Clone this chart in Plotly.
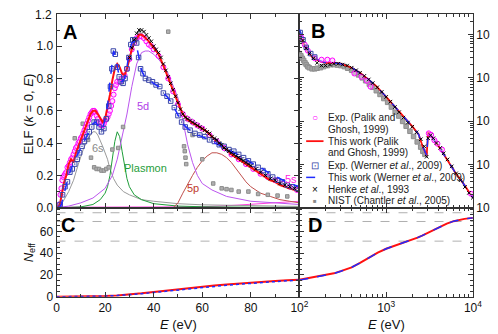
import plotly.graph_objects as go

# ---------------- data: panel A (ELF, linear E 0-100 eV) ----------------
palik_fit_E_A = [0.5, 1, 1.5, 2, 3, 4, 5, 6, 7, 8,
                 9, 10, 11, 12, 13, 14, 15, 16, 17, 18, 19, 20, 21, 22, 23, 24, 25, 26, 27, 28,
                 29, 30, 31, 32, 33, 34, 35, 36,
                 38, 40, 42, 44, 46, 48, 50, 52, 54, 56, 58, 60, 62, 64, 66, 68, 70, 72, 74, 76,
                 78, 80, 82, 84, 86, 88, 90, 92, 94, 96, 98, 100]
palik_fit_A = [0, 0.01, 0.03, 0.07, 0.15, 0.2, 0.27, 0.3, 0.28, 0.34,
               0.38, 0.42, 0.46, 0.5, 0.54, 0.58, 0.6, 0.6, 0.58, 0.55, 0.53, 0.55, 0.62, 0.7, 0.79, 0.86, 0.89, 0.87, 0.83, 0.82,
               0.86, 0.92, 0.98, 1.02, 1.05, 1.07, 1.07, 1.06,
               1.03, 0.99, 0.95, 0.88, 0.80, 0.72, 0.65, 0.58, 0.545, 0.525, 0.51, 0.49, 0.47, 0.44, 0.41, 0.38, 0.36, 0.33, 0.31, 0.29,
               0.27, 0.25, 0.23, 0.21, 0.19, 0.17, 0.16, 0.14, 0.13, 0.12, 0.11, 0.10]

palik_exp_E_A = [1.2, 1.6, 2, 2.4, 2.8, 3.2, 3.6, 4, 4.5, 5,
                 5.5, 6, 6.5, 7, 7.5, 8, 8.5, 9, 9.5, 10,
                 10.5, 11, 11.5, 12, 12.5, 13, 13.5, 14, 14.5, 15,
                 15.5, 16, 16.5, 17, 17.5, 18, 18.5, 19, 19.5, 20,
                 20.5, 21, 21.5, 22, 22.5, 23, 23.5, 24, 24.5, 25,
                 26, 27, 28, 29, 30, 31, 32, 33, 34, 35,
                 36, 37, 38, 39, 40, 42, 44, 46, 48, 50,
                 52, 54, 56, 58, 60, 63, 66, 69, 72, 75,
                 78, 81, 84, 87, 90, 93, 96, 99]
palik_exp_A = [0.02, 0.08, 0.12, 0.17, 0.19, 0.2, 0.21, 0.22, 0.25, 0.26,
               0.28, 0.3, 0.31, 0.33, 0.35, 0.37, 0.38, 0.4, 0.41, 0.43,
               0.44, 0.46, 0.48, 0.5, 0.52, 0.54, 0.56, 0.58, 0.59, 0.6,
               0.6, 0.59, 0.57, 0.55, 0.53, 0.52, 0.51, 0.51, 0.52, 0.54,
               0.55, 0.56, 0.58, 0.6, 0.63, 0.66, 0.7, 0.74, 0.76, 0.78,
               0.78, 0.8, 0.82, 0.86, 0.92, 0.98, 1.02, 1.05, 1.06, 1.06,
               1.05, 1.03, 1.01, 1.0, 0.98, 0.94, 0.87, 0.80, 0.72, 0.64,
               0.58, 0.55, 0.53, 0.51, 0.49, 0.45, 0.41, 0.37, 0.33, 0.3,
               0.27, 0.24, 0.21, 0.19, 0.17, 0.15, 0.13, 0.11]

werner_exp_E_A = [1.5, 2.5, 3.5, 4.5, 5.5, 6.5, 7.5, 8.5, 9.5, 10.5,
                  11.5, 12.5, 13.5, 14.5, 15.5, 16.5, 17.5, 18.5, 19.5, 20.5,
                  21.5, 22.2, 22.8, 23.4, 24.2, 25, 25.8, 26.6, 27.4, 28.2,
                  29, 29.8, 30.6, 31.4, 32.2, 33, 33.8, 34.6, 35.6, 36.6,
                  38, 39.5, 41, 42.5, 44, 45.5, 47, 48.5, 50, 51.5,
                  53, 55, 57, 59, 61, 63, 65, 67, 69, 71,
                  73, 75, 77, 79, 81, 83, 85, 87, 89, 91,
                  93, 95, 97, 99]
werner_exp_A = [0.02, 0.08, 0.13, 0.16, 0.22, 0.24, 0.27, 0.30, 0.34, 0.38,
                0.41, 0.44, 0.47, 0.50, 0.53, 0.53, 0.50, 0.47, 0.49, 0.55,
                0.63, 0.75, 0.86, 0.97, 0.95, 0.87, 0.81, 0.78, 0.77, 0.80,
                0.86, 0.93, 1.01, 1.04, 1.04, 1.02, 0.93, 0.86, 0.83, 0.80,
                0.79, 0.78, 0.76, 0.75, 0.71, 0.69, 0.66, 0.62, 0.57, 0.53,
                0.50, 0.48, 0.46, 0.45, 0.44, 0.42, 0.41, 0.39, 0.38, 0.36,
                0.35, 0.33, 0.31, 0.29, 0.27, 0.25, 0.23, 0.21, 0.19, 0.17,
                0.16, 0.14, 0.13, 0.12]

werner_fit_E_A = [1, 2, 3, 4, 5, 6, 7, 8, 9, 10,
                  11, 12, 13, 14, 15, 16, 17, 18, 19, 20,
                  21, 22, 23, 23.5, 24, 25, 26, 27, 28, 29,
                  30, 31, 32, 33, 34, 35, 36, 38, 40, 42,
                  44, 46, 48, 50, 52, 54, 56, 58, 60, 64,
                  68, 72, 76, 80, 84, 88, 92, 96, 100]
werner_fit_A = [0, 0.02, 0.08, 0.15, 0.2, 0.24, 0.28, 0.31, 0.34, 0.37,
                0.40, 0.43, 0.46, 0.49, 0.52, 0.53, 0.51, 0.48, 0.49, 0.55,
                0.63, 0.78, 0.93, 0.97, 0.95, 0.87, 0.80, 0.78, 0.80, 0.87,
                0.97, 1.02, 1.03, 1.0, 0.92, 0.85, 0.82, 0.79, 0.77, 0.75,
                0.71, 0.68, 0.63, 0.57, 0.52, 0.49, 0.47, 0.45, 0.44, 0.41,
                0.38, 0.35, 0.32, 0.28, 0.25, 0.21, 0.18, 0.15, 0.13]

henke_E_A = [30, 31, 32, 33, 34, 35, 36, 37, 38, 39,
             40, 41, 42, 43, 44, 45, 46, 47, 48, 49,
             50, 51, 52, 53, 54, 55, 56, 57, 58, 59,
             60, 61, 62, 63, 64, 65, 66, 67, 68, 69,
             70, 71, 72, 73, 74, 75, 76, 77, 78, 79,
             80, 82, 84, 86, 88, 90, 92, 94, 96, 98, 100]
henke_A = [0.93, 0.99, 1.04, 1.08, 1.1, 1.1, 1.09, 1.07, 1.05, 1.03,
           1.0, 0.98, 0.96, 0.93, 0.89, 0.85, 0.81, 0.77, 0.73, 0.69,
           0.65, 0.61, 0.58, 0.56, 0.55, 0.54, 0.53, 0.52, 0.51, 0.5,
           0.49, 0.48, 0.47, 0.46, 0.44, 0.43, 0.42, 0.4, 0.39, 0.37,
           0.36, 0.35, 0.34, 0.33, 0.32, 0.31, 0.3, 0.29, 0.28, 0.27,
           0.26, 0.24, 0.22, 0.2, 0.18, 0.17, 0.15, 0.14, 0.13, 0.12, 0.11]

nist_E_A = [7.5, 10.8, 13, 14.2, 15.5, 16.5, 17.5, 18.5, 19.5, 20.5,
            21.5, 23, 25.4, 27.4, 34, 46, 52.5, 52.8, 53.1, 53.4,
            56, 60, 64.5, 68, 70, 72, 75, 79, 83, 87, 91, 95]
nist_A = [0.43, 0.52, 0.42, 0.31, 0.25, 0.24, 0.24, 0.23, 0.23, 0.24,
          0.25, 0.36, 0.37, 0.5, 1.08, 1.09, 0.38, 0.35, 0.31, 0.27,
          0.45, 0.3, 0.15, 0.12, 0.115, 0.11, 0.1, 0.1, 0.085, 0.08, 0.075, 0.07]

# oscillator components
s6_E = [0, 2, 5, 7, 9, 11, 13, 15, 16, 17, 19, 21, 22, 23.5, 25, 27.5, 30, 35, 40, 50, 60, 80, 100]
s6_V = [0, 0.02, 0.1, 0.17, 0.27, 0.36, 0.43, 0.47, 0.47, 0.45, 0.38, 0.3, 0.24, 0.18, 0.14, 0.1, 0.08, 0.05, 0.04, 0.025, 0.018, 0.012, 0.008]
plasmon_E = [5, 10, 15, 18, 20, 21, 22, 23, 24, 25, 26, 27, 28, 29, 30, 32, 35, 40, 50, 60, 80, 100]
plasmon_V = [0.002, 0.005, 0.02, 0.05, 0.09, 0.13, 0.2, 0.3, 0.41, 0.47, 0.44, 0.35, 0.25, 0.18, 0.13, 0.08, 0.05, 0.025, 0.01, 0.006, 0.003, 0.002]
d5_E = [0, 5, 10, 15, 20, 23, 25, 27, 29, 31, 33, 35, 36.5, 38, 40, 42, 44, 46, 48, 50,
        52, 54, 56, 58, 60, 64, 70, 80, 90, 100]
d5_V = [0, 0.01, 0.03, 0.06, 0.12, 0.2, 0.3, 0.43, 0.58, 0.75, 0.89, 0.96, 0.97, 0.97, 0.95, 0.92, 0.88, 0.83, 0.76, 0.68,
        0.54, 0.39, 0.28, 0.2, 0.15, 0.11, 0.07, 0.04, 0.03, 0.02]
p5_E = [48, 50, 52, 54, 56, 58, 60, 62, 64, 66, 68, 70, 72, 74, 76, 78, 80, 84, 88, 92, 96, 100]
p5_V = [0, 0.03, 0.09, 0.15, 0.2, 0.25, 0.29, 0.32, 0.34, 0.34, 0.33, 0.31, 0.28, 0.24, 0.2, 0.16, 0.13, 0.09, 0.07, 0.05, 0.04, 0.03]
s5_E = [0, 20, 40, 60, 70, 80, 90, 100]
s5_V = [0.003, 0.003, 0.004, 0.006, 0.012, 0.02, 0.03, 0.04]

# ---------------- data: panel B (ELF, log E 100-10^4 eV) ----------------
fit_E_B = [100, 110, 120, 140, 170, 200, 250, 300, 350, 400,
           500, 600, 770, 1000, 1340, 1700, 2000, 2370, 2600, 2930,
           3050, 3300, 3700, 4200, 4800, 5500, 6500, 7500, 8500, 10000]
palik_fit_B = [0.10, 0.065, 0.046, 0.03, 0.024, 0.022, 0.022, 0.021, 0.019, 0.017,
               0.013, 0.0098, 0.0064, 0.0036, 0.0019, 0.0011, 0.00075, 0.00049, 0.00028, 0.00016,
               0.00056, 0.00045, 0.00033, 0.00023, 0.00015, 0.000095, 0.000058, 0.00004, 0.000028, 0.000017]
werner_fit_B = [0.13, 0.075, 0.05, 0.032, 0.025, 0.022, 0.022, 0.021, 0.019, 0.017,
                0.013, 0.0098, 0.0064, 0.0036, 0.0019, 0.0011, 0.00075, 0.00049, 0.00028, 0.00016,
                0.00056, 0.00045, 0.00033, 0.00023, 0.00015, 0.000095, 0.000058, 0.00004, 0.000028, 0.000017]
palik_exp_E_B = [105, 115, 125, 150, 180, 210, 240, 430, 520, 600, 660, 3100, 3300, 3600, 3900, 4400, 9500]
palik_exp_B = [0.085, 0.058, 0.042, 0.028, 0.026, 0.026, 0.025, 0.0125, 0.0105, 0.0085, 0.0062,
               0.00052, 0.00048, 0.00036, 0.0003, 0.00022, 0.000021]
werner_exp_E_B = [102, 110, 120, 135, 150]
werner_exp_B = [0.11, 0.075, 0.05, 0.036, 0.03]
henke_E_B = [110, 120, 130, 145, 160, 180, 200, 225, 250, 280,
             315, 355, 400, 450, 500, 560, 630, 700, 790, 890,
             1000, 1120, 1260, 1410, 1580, 1780, 2000, 2240, 2510, 2750,
             2930, 3050, 3250, 3500, 3800, 4200, 4600, 5100, 5700, 6400,
             7200, 8100, 9000, 10000]
henke_B = [0.072, 0.048, 0.036, 0.028, 0.022, 0.019, 0.019, 0.02, 0.021, 0.021,
           0.02, 0.019, 0.017, 0.0148, 0.013, 0.011, 0.0091, 0.0075, 0.006, 0.0047,
           0.0036, 0.0028, 0.0021, 0.0016, 0.0012, 0.00092, 0.00074, 0.00055, 0.00038, 0.00026,
           0.00015, 0.0004, 0.00047, 0.0004, 0.00031, 0.00024, 0.00018, 0.00013, 0.00009, 0.000062,
           0.000043, 0.00003, 0.000022, 0.000017]
nist_E_B = [100, 104, 108, 112, 116, 120, 125, 130, 140, 150,
            160, 175, 190, 210, 230, 250, 275, 300, 330, 360,
            400, 440, 480, 530, 580, 640, 700, 770, 850, 940,
            1040, 1150, 1270, 1400, 1550, 1700, 1880, 2070, 2280, 2500,
            2650, 2800]
nist_B = [0.036, 0.032, 0.028, 0.025, 0.022, 0.02, 0.018, 0.017, 0.016, 0.016,
          0.0165, 0.017, 0.018, 0.019, 0.02, 0.02, 0.0195, 0.019, 0.018, 0.0165,
          0.0148, 0.0132, 0.0116, 0.0099, 0.0085, 0.0071, 0.006, 0.005, 0.0041, 0.0033,
          0.0027, 0.0021, 0.0016, 0.0013, 0.00098, 0.00076, 0.00058, 0.00044, 0.00033, 0.00025,
          0.0002, 0.00017]

# ---------------- data: panels C / D (N_eff) ----------------
neff_E_C = [0, 5, 10, 15, 20, 25, 30, 35, 40, 45, 50, 55, 60, 65, 70, 75, 80, 85, 90, 95, 100]
neff_palik_C = [0, 0.05, 0.15, 0.35, 0.7, 1.3, 2.1, 3.2, 4.4, 5.7, 7.0, 8.2, 9.3, 10.3, 11.3, 12.2, 13.0, 13.8, 14.5, 15.1, 15.6]
neff_werner_C = [0, 0.05, 0.14, 0.32, 0.65, 1.2, 1.9, 2.9, 4.0, 5.2, 6.4, 7.6, 8.6, 9.6, 10.6, 11.5, 12.4, 13.2, 14.0, 14.7, 15.3]
neff_E_D = [100, 120, 150, 200, 250, 300, 400, 500, 600, 800, 1000, 1300, 1600, 2000, 2300, 2600,
            3000, 3500, 4000, 5000, 6000, 7000, 8000, 10000]
neff_palik_D = [15.6, 16.8, 18.2, 19.8, 21.5, 23.5, 27, 31, 34.5, 40.5, 44, 47, 49.5, 52.5, 54.2, 56,
                58.5, 61.5, 63.8, 67, 69.3, 70.6, 71.4, 72.3]
neff_werner_D = [15.3, 16.6, 18.0, 19.7, 21.4, 23.4, 27, 31, 34.5, 40.5, 44, 47, 49.5, 52.5, 54.2, 56,
                 58.5, 61.5, 63.8, 67, 69.3, 70.6, 71.4, 72.3]
shell_levels = [77, 69, 51]

# tick labels
elf_ticks = [0, 0.2, 0.4, 0.6, 0.8, 1.0]
elf_ticktext = ['0.0', '0.2', '0.4', '0.6', '0.8', '1.0']
elf_top_label = '1.2'

# ---------------- layout helpers ----------------
W, H = 498, 334
def px(v): return v / W
def py(v): return 1 - v / H

XL, XM, XR = 41, 293, 473
YT, YM, YB = 6, 204, 295

RED = '#ff1010'
BLUE = '#1f2cff'
MAG = '#ff00ff'
SQ = '#3a46a8'
FONT = 'Liberation Sans, Arial, sans-serif'

fig = go.Figure()

def line(xs, ys, xa, ya, color, width=1.0, dash='solid'):
    fig.add_trace(go.Scatter(x=xs, y=ys, xaxis=xa, yaxis=ya, mode='lines',
                             line=dict(color=color, width=width, dash=dash),
                             showlegend=False, hoverinfo='skip'))

def pts(xs, ys, xa, ya, symbol, size, color, fill=None, lw=1.0):
    fig.add_trace(go.Scatter(x=xs, y=ys, xaxis=xa, yaxis=ya, mode='markers',
                             marker=dict(symbol=symbol, size=size, color=fill if fill else color,
                                         line=dict(color=color, width=lw)),
                             showlegend=False, hoverinfo='skip'))

# ---- Panel A ----
line(s5_E, s5_V, 'x', 'y', '#ff40e0', 1)
line(s6_E, s6_V, 'x', 'y', '#9a9a9a', 1)
line(plasmon_E, plasmon_V, 'x', 'y', '#1f9e3a', 1)
line(p5_E, p5_V, 'x', 'y', '#c0504d', 1)
line(d5_E, d5_V, 'x', 'y', '#bb55ee', 1)
pts(nist_E_A, nist_A, 'x', 'y', 'square', 3.5, '#8c8c8c', fill='#b0b0b0', lw=1)
pts(palik_exp_E_A, palik_exp_A, 'x', 'y', 'circle', 5, MAG, fill='rgba(255,190,255,0.5)', lw=1)
line(palik_fit_E_A, palik_fit_A, 'x', 'y', RED, 2)
pts(werner_exp_E_A, werner_exp_A, 'x', 'y', 'square-open-dot', 4.5, SQ, lw=1)
line(werner_fit_E_A, werner_fit_A, 'x', 'y', BLUE, 1.5, 'dash')
pts(henke_E_A, henke_A, 'x', 'y', 'x-thin-open', 3.5, '#000000', lw=1)

# ---- Panel B ----
pts(nist_E_B, nist_B, 'x2', 'y2', 'square', 4.5, '#8e8e8e', fill='#a4a4a4', lw=1)
line(fit_E_B, palik_fit_B, 'x2', 'y2', RED, 1.8)
line(fit_E_B, werner_fit_B, 'x2', 'y2', BLUE, 1.5, 'dash')
pts(palik_exp_E_B, palik_exp_B, 'x2', 'y2', 'circle', 5, MAG, fill='rgba(255,190,255,0.5)', lw=1)
pts(werner_exp_E_B, werner_exp_B, 'x2', 'y2', 'square-open-dot', 4.5, SQ, lw=1)
pts(henke_E_B, henke_B, 'x2', 'y2', 'x-thin-open', 3.5, '#000000', lw=1)

# ---- Panel C / D ----
line(neff_E_C, neff_palik_C, 'x3', 'y3', RED, 2)
line(neff_E_C, neff_werner_C, 'x3', 'y3', BLUE, 1.5, 'dot')
line(neff_E_D, neff_palik_D, 'x4', 'y4', RED, 2)
line(neff_E_D, neff_werner_D, 'x4', 'y4', BLUE, 1.5, 'dash')

shapes = []
for lv in shell_levels:
    shapes.append(dict(type='line', xref='paper', yref='y3', x0=px(XL), x1=px(XR), y0=lv, y1=lv,
                       line=dict(color='#b0b0b0', width=1, dash='dash'), layer='below'))

# ---- axes ----
AX = dict(showline=True, linecolor='#333', linewidth=1, mirror='ticks', ticks='inside',
          ticklen=5, tickwidth=1, tickcolor='#333', showgrid=False, zeroline=False,
          tickfont=dict(family=FONT, size=12, color='#111'))
MINOR = dict(ticks='inside', ticklen=3, tickcolor='#333', showgrid=False)
log_minor_x = [m * 10 ** e for e in (2, 3) for m in range(2, 10)]
log_minor_y = [m * 10 ** e for e in (-5, -4, -3, -2, -1) for m in range(2, 10)]

xdomA = [px(XL), px(XM)]
xdomB = [px(XM), px(XR)]
ydomTop = [py(YM), py(YT)]
ydomBot = [py(YB), py(YM)]

fig.update_layout(
    width=W, height=H, margin=dict(l=0, r=0, t=0, b=0),
    paper_bgcolor='white', plot_bgcolor='white', showlegend=False,
    font=dict(family=FONT, size=12, color='#111'),
    xaxis=dict(AX, domain=xdomA, anchor='y', range=[0, 100], tickvals=[0, 20, 40, 60, 80, 100],
               showticklabels=False, minor=dict(MINOR, dtick=10, tick0=0)),
    yaxis=dict(AX, domain=ydomTop, anchor='x', range=[0, 1.2], tickvals=elf_ticks, ticktext=elf_ticktext,
               minor=dict(MINOR, dtick=0.1, tick0=0)),
    xaxis2=dict(AX, domain=xdomB, anchor='y2', type='log', range=[2, 4], tickvals=[100, 1000, 10000],
                showticklabels=False, minor=dict(MINOR, tickmode='array', tickvals=log_minor_x)),
    yaxis2=dict(AX, domain=ydomTop, anchor='x2', side='right', type='log', range=[-5, -0.528],
                tickvals=[1e-5, 1e-4, 1e-3, 1e-2, 1e-1],
                ticktext=['10<sup>-5</sup>', '10<sup>-4</sup>', '10<sup>-3</sup>', '10<sup>-2</sup>', '10<sup>-1</sup>'],
                minor=dict(MINOR, tickmode='array', tickvals=log_minor_y)),
    xaxis3=dict(AX, domain=xdomA, anchor='y3', range=[0, 100], tickvals=[0, 20, 40, 60, 80],
                minor=dict(MINOR, dtick=10, tick0=0)),
    yaxis3=dict(AX, domain=ydomBot, anchor='x3', range=[0, 81.6], tickvals=[0, 20, 40, 60],
                minor=dict(MINOR, dtick=5, tick0=0)),
    xaxis4=dict(AX, domain=xdomB, anchor='y4', type='log', range=[2, 4], tickvals=[100, 1000, 10000],
                ticktext=['10<sup>2</sup>', '10<sup>3</sup>', '10<sup>4</sup>'],
                minor=dict(MINOR, tickmode='array', tickvals=log_minor_x)),
    yaxis4=dict(AX, domain=ydomBot, anchor='x4', range=[0, 81.6], tickvals=[0, 20, 40, 60],
                showticklabels=False, minor=dict(MINOR, dtick=5, tick0=0)),
    shapes=shapes,
)

ann = []
def txt(x, y, s, size=11, color='#111', xanchor='center', angle=0, bold=False, yanchor='middle'):
    ann.append(dict(x=px(x), y=py(y), xref='paper', yref='paper', text=('<b>%s</b>' % s) if bold else s,
                    showarrow=False, xanchor=xanchor, yanchor=yanchor, textangle=angle,
                    font=dict(family=FONT, size=size, color=color)))

# top ELF tick label (kept as text at the top edge of panel A)
txt(XL - 3, YT + 1, elf_top_label, 12, '#111', xanchor='right')

# panel letters
txt(55, 25, 'A', 20, '#000', bold=True)
txt(312, 24, 'B', 20, '#000', bold=True)
txt(53, 222, 'C', 20, '#000', bold=True)
txt(309, 222, 'D', 20, '#000', bold=True)

# component labels
txt(84, 143, '6s', 11, '#8a8a8a')
txt(133, 163, 'Plasmon', 11, '#1f9e3a')
txt(131, 100, '5d', 11, '#b040e8')
txt(183, 184, '5p', 11, '#c0392b')
txt(284, 175, '5s', 11, '#ff20e0')

# axis titles
txt(12, 108, 'ELF (<i>k</i> = 0, <i>E</i>)', 13, '#111', angle=-90)
txt(13, 250, '<i>N</i><sub>eff</sub>', 13, '#111', angle=-90)
txt(168, 323, '<i>E</i> (eV)', 13, '#111')
txt(383, 323, '<i>E</i> (eV)', 13, '#111')

# legend (inside panel B)
LX, GX = 321, 309
rows = [112, 124, 136, 148, 161, 173, 185, 197]
texts = ['Exp. (Palik and', 'Ghosh, 1999)', 'This work (Palik', 'and Ghosh, 1999)',
         'Exp. (Werner <i>et al</i>., 2009)', 'This work (Werner <i>et al</i>., 2009)',
         'Henke <i>et al</i>., 1993', 'NIST (Chantler <i>et al</i>., 2005)']
for r, t in zip(rows, texts):
    txt(LX, r, t, 10, '#222', xanchor='left')
txt(GX, rows[0], '○', 10, MAG)
txt(GX, rows[4], '⊡', 10, SQ)
txt(GX, rows[6], '×', 10, '#000')
txt(GX, rows[7], '■', 6, '#8a8a8a')
fig.update_layout(annotations=ann)
fig.add_shape(type='line', xref='paper', yref='paper', x0=px(300), x1=px(318), y0=py(rows[2]), y1=py(rows[2]),
              line=dict(color=RED, width=1.8))
fig.add_shape(type='line', xref='paper', yref='paper', x0=px(300), x1=px(318), y0=py(rows[5]), y1=py(rows[5]),
              line=dict(color=BLUE, width=1.5, dash='dash'))

fig.write_html('out.html')
